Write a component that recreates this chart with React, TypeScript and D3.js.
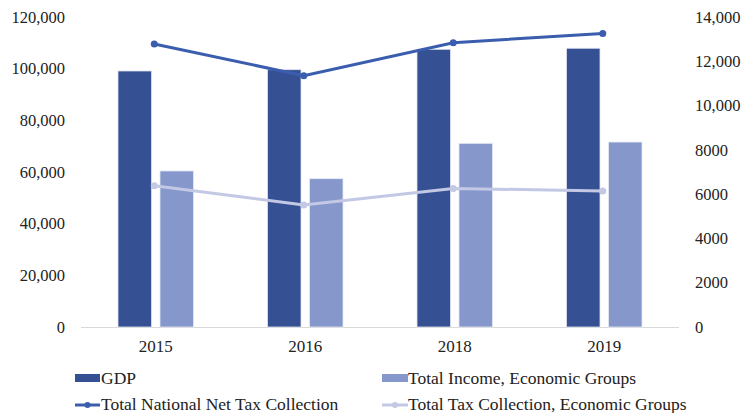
import React from "react";
import * as d3 from "d3";

const years = ["2015", "2016", "2018", "2019"];
const gdp = [99100, 99600, 107500, 107900];
const totalIncome = [60400, 57400, 71100, 71600];
const netTax = [12780, 11350, 12840, 13250];
const groupTax = [6380, 5510, 6260, 6140];
const leftTicks = [0, 20000, 40000, 60000, 80000, 100000, 120000];
const rightTicks = [0, 2000, 4000, 6000, 8000, 10000, 12000, 14000];

const W = 746, H = 413;
const x0 = 81, x1 = 679, yTop = 17, yBot = 327;
const C_GDP = "#355193";
const C_INC = "#8597CB";
const C_NET = "#3A5DAE";
const C_GRP = "#C3C8E5";
const FONT = "'Liberation Serif', 'Times New Roman', serif";

export default function App() {
  const x = d3.scaleBand<string>().domain(years).range([x0, x1]);
  const yL = d3.scaleLinear().domain([0, 120000]).range([yBot, yTop]);
  const yR = d3.scaleLinear().domain([0, 14000]).range([yBot, yTop]);
  const fmt = (v: number) => (v >= 10000 ? d3.format(",")(v) : String(v));
  const cx = (y: string) => (x(y) as number) + x.bandwidth() / 2;
  const bw = 33.5, off = 21;
  const lineNet = d3.line<number>().x((_, i) => cx(years[i]) - 1.5).y((d) => yR(d));
  const lineGrp = d3.line<number>().x((_, i) => cx(years[i]) - 1.5).y((d) => yR(d));
  const LF = 17.5;

  return (
    <svg width={W} height={H} style={{ position: "absolute", left: 0, top: 0, background: "#fff" }} fontFamily={FONT}>
      {leftTicks.map((t) => (
        <text key={"l" + t} x={65} y={yL(t)} dy="0.35em" textAnchor="end" fontSize={16.5} fill="#222">
          {fmt(t)}
        </text>
      ))}
      {rightTicks.map((t) => (
        <text key={"r" + t} x={695} y={yR(t)} dy="0.35em" textAnchor="start" fontSize={16.5} fill="#222">
          {fmt(t)}
        </text>
      ))}
      <line x1={x0} x2={x1} y1={yBot + 0.5} y2={yBot + 0.5} stroke="#d9d9d9" strokeWidth={1} />
      {years.map((y, i) => (
        <g key={y}>
          <rect x={cx(y) - off - bw / 2} y={yL(gdp[i])} width={bw} height={yBot - yL(gdp[i])} fill={C_GDP} stroke="#dfe3f0" strokeWidth={0.8} />
          <rect x={cx(y) + off - bw / 2} y={yL(totalIncome[i])} width={bw} height={yBot - yL(totalIncome[i])} fill={C_INC} stroke="#e6e9f4" strokeWidth={0.8} />
          <text x={cx(y)} y={346} dy="0.35em" textAnchor="middle" fontSize={17} fill="#222">{y}</text>
        </g>
      ))}
      <path d={lineGrp(groupTax) || ""} fill="none" stroke={C_GRP} strokeWidth={3} />
      {groupTax.map((v, i) => (
        <circle key={"g" + i} cx={cx(years[i]) - 1.5} cy={yR(v)} r={3.5} fill={C_GRP} />
      ))}
      <path d={lineNet(netTax) || ""} fill="none" stroke={C_NET} strokeWidth={3} />
      {netTax.map((v, i) => (
        <circle key={"n" + i} cx={cx(years[i]) - 1.5} cy={yR(v)} r={3.5} fill={C_NET} />
      ))}
      {/* legend */}
      <rect x={75} y={374} width={25} height={8} fill={C_GDP} />
      <text x={101} y={378} dy="0.35em" fontSize={LF} fill="#222">GDP</text>
      <rect x={382} y={374} width={26} height={8} fill={C_INC} />
      <text x={408} y={378} dy="0.35em" fontSize={LF} fill="#222">Total Income, Economic Groups</text>
      <line x1={75} x2={100} y1={405} y2={405} stroke={C_NET} strokeWidth={3} />
      <circle cx={87.5} cy={405} r={3} fill={C_NET} />
      <text x={101} y={404} dy="0.35em" fontSize={LF} fill="#222">Total National Net Tax Collection</text>
      <line x1={382} x2={408} y1={405} y2={405} stroke={C_GRP} strokeWidth={3} />
      <circle cx={395} cy={405} r={3} fill={C_GRP} />
      <text x={408} y={404} dy="0.35em" fontSize={LF} fill="#222">Total Tax Collection, Economic Groups</text>
    </svg>
  );
}
